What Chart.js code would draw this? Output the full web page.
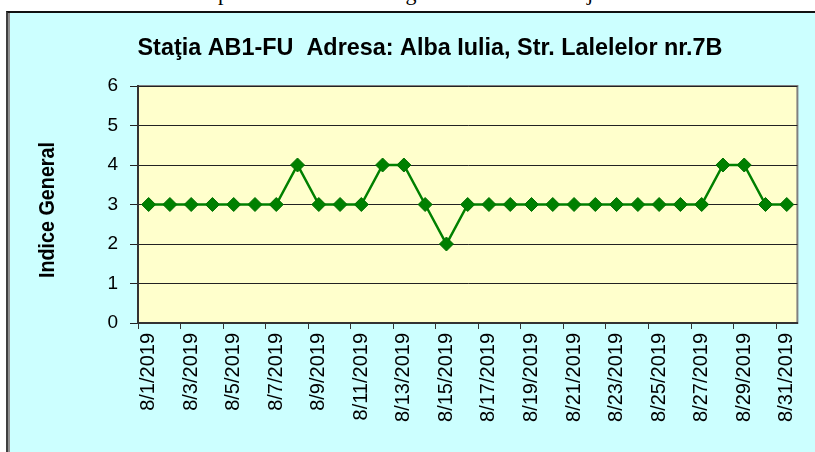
<!DOCTYPE html>
<html>
<head>
<meta charset="utf-8">
<script src="https://cdn.jsdelivr.net/npm/chart.js@4.4.1/dist/chart.umd.min.js"></script>
<style>
  html, body { margin: 0; padding: 0; background: #fff; overflow: hidden; }
  #page { position: relative; width: 815px; height: 452px; overflow: hidden; }
  .sliver { position: absolute; top: -20px; font: 22px "Liberation Serif", "Times New Roman", serif; white-space: nowrap; color: #000; }
  #box {
    position: absolute; left: 6px; top: 11px; width: 830px; height: 460px;
    background: #ccffff;
    border-left: 2px solid #404040; border-top: 2px solid #111;
    box-shadow: inset 2px 0 0 #909090;
  }
  #chart { position: absolute; left: 0; top: 0; }
</style>
</head>
<body>
<div id="page">
  <span class="sliver" style="left:218px">prezentate în</span>
  <span class="sliver" style="left:392px; word-spacing:20px">figurile de mai jos:</span>
  <div id="box"></div>
  <canvas id="chart" width="815" height="452"></canvas>
</div>
<script>
// station and chart text
const chartTitle = 'Staţia AB1-FU  Adresa: Alba Iulia, Str. Lalelelor nr.7B';
const yTitle = 'Indice General';

// one value per day, August 2019
const days = [
  '8/1/2019', '8/2/2019', '8/3/2019', '8/4/2019', '8/5/2019', '8/6/2019', '8/7/2019', '8/8/2019',
  '8/9/2019', '8/10/2019', '8/11/2019', '8/12/2019', '8/13/2019', '8/14/2019', '8/15/2019', '8/16/2019',
  '8/17/2019', '8/18/2019', '8/19/2019', '8/20/2019', '8/21/2019', '8/22/2019', '8/23/2019', '8/24/2019',
  '8/25/2019', '8/26/2019', '8/27/2019', '8/28/2019', '8/29/2019', '8/30/2019', '8/31/2019'
];
const indiceGeneral = [
  3, 3, 3, 3, 3, 3, 3, 4,
  3, 3, 3, 4, 4, 3, 2, 3,
  3, 3, 3, 3, 3, 3, 3, 3,
  3, 3, 3, 4, 4, 3, 3
];
const yMin = 0;
const yMax = 6;
const yStep = 1;

const green = '#008000';
const sans = '"Liberation Sans", Arial, sans-serif';

// yellow plot area, chart title and axis title placed like the Excel original
const plotArea = {
  id: 'plotArea',
  beforeDraw(chart) {
    const { ctx, chartArea: a } = chart;
    ctx.save();
    ctx.fillStyle = '#ffffcc';
    ctx.fillRect(a.left, a.top, a.right - a.left, a.bottom - a.top);
    ctx.strokeStyle = '#808080';
    ctx.lineWidth = 2;
    ctx.strokeRect(a.left, a.top, a.right - a.left, a.bottom - a.top);
    ctx.restore();
  },
  afterDraw(chart) {
    const ctx = chart.ctx;
    ctx.save();
    ctx.fillStyle = '#000';
    ctx.textAlign = 'center';
    ctx.textBaseline = 'middle';
    // title, slightly condensed
    ctx.font = 'bold 24px ' + sans;
    let w = ctx.measureText(chartTitle).width;
    ctx.save();
    ctx.translate(430, 48);
    ctx.scale(585 / w, 1);
    ctx.fillText(chartTitle, 0, 0);
    ctx.restore();
    // y axis title
    ctx.font = 'bold 22px ' + sans;
    w = ctx.measureText(yTitle).width;
    ctx.translate(48, 210);
    ctx.rotate(-Math.PI / 2);
    ctx.scale(136 / w, 1);
    ctx.fillText(yTitle, 0, 0);
    ctx.restore();
  }
};

new Chart(document.getElementById('chart'), {
  type: 'line',
  data: {
    labels: days,
    datasets: [{
      data: indiceGeneral,
      borderColor: green,
      borderWidth: 2.5,
      backgroundColor: green,
      pointStyle: 'rectRot',
      pointRadius: 7,
      pointBackgroundColor: green,
      pointBorderColor: '#007000',
      pointBorderWidth: 1,
      tension: 0
    }]
  },
  options: {
    responsive: false,
    animation: false,
    devicePixelRatio: 1,
    layout: { padding: { top: 86, left: 0, right: 15, bottom: 0 } },
    plugins: {
      legend: { display: false },
      title: { display: false },
      tooltip: { enabled: false }
    },
    scales: {
      x: {
        offset: true,
        afterFit(scale) { scale.height = 129; },
        grid: {
          offset: true,
          drawOnChartArea: false,
          drawTicks: true,
          tickLength: 6,
          color: (c) => (c.index % 2 === 0 ? '#333' : 'rgba(0,0,0,0)')
        },
        border: { display: true, color: '#333', width: 2 },
        ticks: {
          autoSkip: false,
          minRotation: 90,
          maxRotation: 90,
          padding: 4,
          color: '#000',
          font: { family: sans, size: 20 },
          callback(value, index) { return index % 2 === 0 ? days[index] : ''; }
        }
      },
      y: {
        min: yMin,
        max: yMax,
        afterFit(scale) { scale.width = 138; },
        grid: { color: '#222', lineWidth: 1, tickLength: 8 },
        border: { display: true, color: '#333', width: 2 },
        ticks: {
          stepSize: yStep,
          padding: 12,
          color: '#000',
          font: { family: sans, size: 19 }
        }
      }
    }
  },
  plugins: [plotArea]
});
</script>
</body>
</html>
